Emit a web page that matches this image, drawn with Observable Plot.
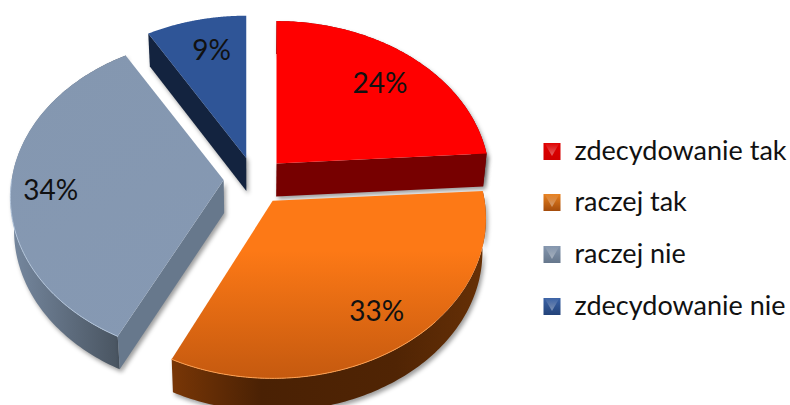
<!DOCTYPE html>
<html>
<head>
<meta charset="utf-8">
<style>html,body{margin:0;padding:0;background:#fff;overflow:hidden}</style>
<script src="https://cdn.jsdelivr.net/npm/d3@7"></script>
<script src="https://cdn.jsdelivr.net/npm/@observablehq/plot@0.6"></script>
</head>
<body>
<div id="chart"></div>
<script>
// Data
const categories = ["zdecydowanie tak", "raczej tak", "raczej nie", "zdecydowanie nie"];
const shares = [24, 33, 34, 9];

// Styles
const topFill  = ["#ff0000", "url(#topOrange)", "url(#topGray)", "#2f5597"];
const cutFill  = ["#770000", "#5a2a05", "#67788c", "#13233f"];
const wallFill = ["#770000", "url(#wallOrange)", "url(#wallGray)", "#13233f"];
const rimColor = [null, "#ffa050", "#b4c6dc", null];
const swatchFill = ["url(#swRed)", "url(#swOrange)", "url(#swGray)", "url(#swBlue)"];

// Layout of the 3D projection (not data)
const W = 790, H = 405;
const center = [254.5, 180], R = 212, RY = 158, persp = 0.11, explode = 0.148, depth = 33, shrink = 0.985;
const labelAt = 0.78;
const startShift = [0, 0, 1.6, 2];                             // perspective correction of slice edges, degrees
const endShift = [0, 0.2, 2, 0];
const liftY = [0, 1, -2, 0];                                   // perspective correction of slice apexes
const labelShift = [[-3, 5], [4, 1], [-7, 3], [8, 2]];         // fine placement of the percent labels

const rad = d => d * Math.PI / 180;
const proj = (deg, f = 1) => {
  const u = Math.sin(rad(deg)) * f, v = -Math.cos(rad(deg)) * f;
  const s = 1 / (1 - persp * v);
  return [R * u * s, RY * v * s];
};
let acc = 0;
const slices = shares.map((v, i) => {
  const c0 = acc * 3.6; acc += v; const c1 = acc * 3.6, mid = (c0 + c1) / 2;
  const a0 = c0 + startShift[i], a1 = c1 + endShift[i];
  const u = Math.sin(rad(mid)), w = -Math.cos(rad(mid));
  const apex = [center[0] + explode * R * u, center[1] + explode * RY * w + liftY[i]];
  return {i, v, a0, a1, mid, apex, name: categories[i]};
});
const topPt = (s, deg, f = 1) => { const p = proj(deg, f); return [s.apex[0] + p[0], s.apex[1] + p[1]]; };
const low = ([x, y]) => [center[0] + (x - center[0]) * shrink, y + depth];
const arc = (s, a, b) => d3.range(0, 121).map(k => topPt(s, a + (b - a) * k / 120));
const P = (pts) => pts.map(p => ({x: p[0], y: p[1]}));

const polyTop  = s => P([s.apex, ...arc(s, s.a0, s.a1)]);
const polyWall = s => { const t = arc(s, s.a0, s.a1); return P([...t, ...t.slice().reverse().map(low)]); };
const polyCut  = (s, deg) => { const e = topPt(s, deg); return P([s.apex, e, low(e), low(s.apex)]); };

const fillLine = (pts, fill, extra = {}) => Plot.line(pts, {x: "x", y: "y", fill, stroke: "none", curve: "linear", ...extra});
const shadow = "drop-shadow(2px 3px 2px rgba(0,0,0,0.38))";

// Back to front: blue, gray, red, orange
const order = [3, 2, 0, 1];
const sliceMarks = [];
for (const i of order) {
  const s = slices[i];
  const cuts = i === 3 ? [polyCut(s, s.a0)] : i === 2 ? [polyCut(s, s.a0)] : i === 0 ? [polyCut(s, s.a1)] : [];
  if (i !== 3) sliceMarks.push(fillLine(polyWall(s), wallFill[i], {imageFilter: shadow}));
  for (const c of cuts) sliceMarks.push(fillLine(c, cutFill[i], {imageFilter: shadow}));
  sliceMarks.push(fillLine(polyTop(s), topFill[i]));
  if (rimColor[i]) {
    const from = i === 1 ? 135 : s.a0, to = i === 1 ? s.a1 : 270;
    sliceMarks.push(Plot.line(P(arc(s, from, to)), {x: "x", y: "y", stroke: rimColor[i], strokeWidth: 1, curve: "linear"}));
  }
}

const labels = slices.map((s, i) => {
  const p = topPt(s, s.mid, labelAt);
  return {x: p[0] + labelShift[i][0], y: p[1] + labelShift[i][1], t: s.v + "%"};
});

// Legend positions
const legX = 551.5, legTextX = 574, legY = [151, 202, 254, 306];
const legend = categories.map((name, i) => ({name, x: legX, y: legY[i], tx: legTextX}));

const font = "Lato, 'Open Sans', sans-serif";
const chart = Plot.plot({
  width: W, height: H, margin: 0,
  x: {domain: [0, W], range: [0, W], axis: null},
  y: {domain: [0, H], range: [0, H], axis: null},
  style: {background: "#fff", overflow: "hidden"},
  marks: [
    ...sliceMarks,
    Plot.text(labels, {x: "x", y: "y", text: "t", fontSize: 28, fontFamily: font, fill: "#111", textAnchor: "middle"}),
    ...legend.map((d, i) => Plot.dot([d], {x: "x", y: "y", symbol: "square", r: 9.6, fill: swatchFill[i], stroke: "none"})),
    Plot.dot(legend, {x: "x", y: d => d.y - 4, symbol: "triangle", r: 5.5, rotate: 180, fill: "url(#swGloss)", stroke: "none"}),
    Plot.text(legend, {x: "tx", y: "y", text: "name", fontSize: 27, fontFamily: font, fill: "#111", textAnchor: "start"})
  ]
});

// Gradients
const defs = `
<linearGradient id="topOrange" gradientUnits="userSpaceOnUse" x1="0" y1="250" x2="0" y2="380">
  <stop offset="0" stop-color="#fd7916"/><stop offset="1" stop-color="#c4590f"/></linearGradient>
<linearGradient id="topGray" gradientUnits="userSpaceOnUse" x1="60" y1="60" x2="200" y2="340">
  <stop offset="0" stop-color="#8497b0"/><stop offset="1" stop-color="#8699b3"/></linearGradient>
<linearGradient id="wallOrange" gradientUnits="userSpaceOnUse" x1="172" y1="0" x2="490" y2="0">
  <stop offset="0" stop-color="#783606"/><stop offset="0.28" stop-color="#4a2104"/><stop offset="0.7" stop-color="#502404"/><stop offset="1" stop-color="#683106"/></linearGradient>
<linearGradient id="wallGray" gradientUnits="userSpaceOnUse" x1="12" y1="0" x2="122" y2="0">
  <stop offset="0" stop-color="#75879e"/><stop offset="1" stop-color="#48535f"/></linearGradient>
<linearGradient id="swRed" x1="0" y1="0" x2="0" y2="1"><stop offset="0" stop-color="#e00000"/><stop offset="1" stop-color="#d00000"/></linearGradient>
<linearGradient id="swOrange" x1="0" y1="0" x2="0" y2="1"><stop offset="0" stop-color="#e8811f"/><stop offset="1" stop-color="#a44c0c"/></linearGradient>
<linearGradient id="swGray" x1="0" y1="0" x2="0" y2="1"><stop offset="0" stop-color="#8496ae"/><stop offset="1" stop-color="#66778c"/></linearGradient>
<linearGradient id="swBlue" x1="0" y1="0" x2="0" y2="1"><stop offset="0" stop-color="#3a62a6"/><stop offset="1" stop-color="#234379"/></linearGradient>
<linearGradient id="swGloss" x1="0" y1="0" x2="0" y2="1"><stop offset="0" stop-color="#fff" stop-opacity="0.4"/><stop offset="1" stop-color="#fff" stop-opacity="0.02"/></linearGradient>`;
const d = document.createElementNS("http://www.w3.org/2000/svg", "defs");
d.innerHTML = defs;
chart.insertBefore(d, chart.firstChild);
document.getElementById("chart").appendChild(chart);
</script>
</body>
</html>
